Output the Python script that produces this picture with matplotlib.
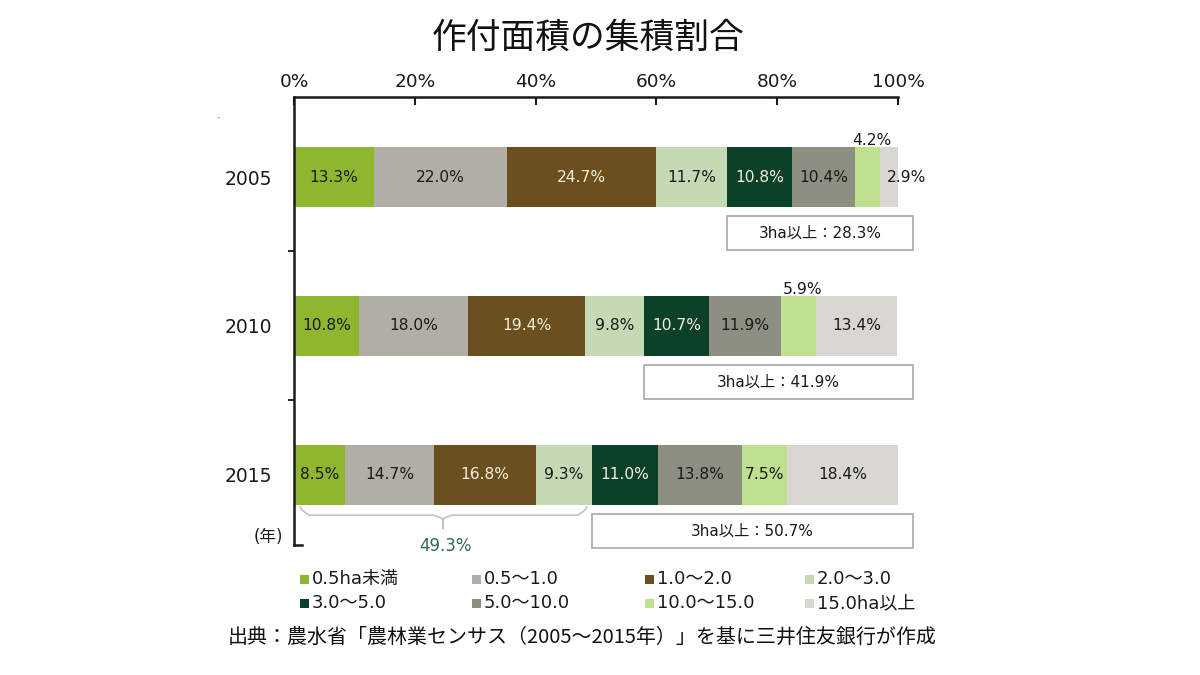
import matplotlib.pyplot as plt
from matplotlib.patches import Rectangle
import numpy as np

plt.rcParams['font.family'] = ['DejaVu Sans', 'Noto Sans CJK JP']

years = ['2005', '2010', '2015']
categories = ['0.5ha未満', '0.5～1.0', '1.0～2.0', '2.0～3.0',
              '3.0～5.0', '5.0～10.0', '10.0～15.0', '15.0ha以上']
colors = ['#8fb62f', '#b1aea6', '#6b4f1f', '#c6d9b5',
          '#0b4029', '#8d8f82', '#bfe08f', '#d8d7d2']
dark = {2, 4}  # segments with light text

share_2005 = [13.3, 22.0, 24.7, 11.7, 10.8, 10.4, 4.2, 2.9]
share_2010 = [10.8, 18.0, 19.4, 9.8, 10.7, 11.9, 5.9, 13.4]
share_2015 = [8.5, 14.7, 16.8, 9.3, 11.0, 13.8, 7.5, 18.4]
shares = [share_2005, share_2010, share_2015]

W, H = 1200, 675
fig = plt.figure(figsize=(12, 6.75), dpi=100)
ax = fig.add_axes([294 / W, 1 - 545 / H, (898 - 294) / W, (545 - 97) / H])

bar_h = 0.40
lab_fs = 11.2
for i, vals in enumerate(shares):
    lefts = np.concatenate([[0], np.cumsum(vals)[:-1]])
    ax.barh(i, vals, left=lefts, height=bar_h, color=colors, linewidth=0)
    for k, (v, l) in enumerate(zip(vals, lefts)):
        txt = f'{v:.1f}%'
        tc = '#f4efdc' if k in dark else '#1a1a1a'
        if v < 4:
            ax.text(l + v + 1.5, i, txt, ha='center', va='center', fontsize=lab_fs, color='#1a1a1a')
        elif v < 7:
            ax.text(l + v / 2 + 0.7, i - 0.245, txt, ha='center', va='center', fontsize=lab_fs, color='#1a1a1a')
        else:
            ax.text(l + v / 2, i, txt, ha='center', va='center', fontsize=lab_fs, color=tc)

    # 3ha以上 box
    start = sum(vals[:4])
    big = sum(vals[4:])
    ax.add_patch(Rectangle((start, i + 0.265), 102.5 - start, 0.225, facecolor='white',
                           edgecolor='#a8a8a8', linewidth=1.2, clip_on=False))
    ax.text((start + 102.5) / 2, i + 0.38, f'3ha以上：{big:.1f}%', ha='center', va='center',
            fontsize=11, color='#1a1a1a')

# brace under 2015 (segments below 3ha)
small = sum(share_2015[:4])
x0, x1 = 1.0, small - 0.8
xc = small / 2
yb = 2 + 0.27
bx = [x0, x0 + 0.3, x0 + 1.5, xc - 1.5, xc - 0.2, xc, xc, xc, xc + 0.2, xc + 1.5, x1 - 1.5, x1 - 0.3, x1]
by = [2 + 0.215, yb - 0.035, yb, yb, yb + 0.02, yb + 0.04, yb + 0.09, yb + 0.04, yb + 0.02, yb, yb,
      yb - 0.035, 2 + 0.215]
ax.plot(bx, by, color='#c2c2c2', linewidth=1.2, clip_on=False)
ax.text(xc + 0.4, 2 + 0.475, f'{small:.1f}%', ha='center', va='center', fontsize=12,
        color='#2f6a4f')

ax.text(-4.3, 2 + 0.415, '(年)', ha='center', va='center', fontsize=12, color='#1a1a1a')

ax.set_xlim(0, 100)
ax.set_ylim(2.47, -0.537)
ax.axhline(2.47, xmax=0.013, color='#1a1a1a', linewidth=1.8, clip_on=False)
ax.xaxis.tick_top()
ax.set_xticks(np.arange(0, 101, 20))
ax.set_xticklabels([f'{t}%' for t in range(0, 101, 20)])
ax.tick_params(axis='x', direction='in', length=6, width=1.5, labelsize=13.3, pad=4,
               colors='#1a1a1a')
ax.set_yticks(range(len(years)))
ax.set_yticklabels(years)
ax.tick_params(axis='y', length=0, labelsize=13.5, pad=16, colors='#1a1a1a')
ax.set_yticks([0.5, 1.5], minor=True)
ax.tick_params(axis='y', which='minor', length=4, width=1.2, direction='out')
for s in ['right', 'bottom']:
    ax.spines[s].set_visible(False)
for s in ['top', 'left']:
    ax.spines[s].set_linewidth(1.8)
    ax.spines[s].set_color('#1a1a1a')

# legend drawn by hand: 2 rows x 4 cols
col_x = [300, 472, 645, 805]
row_y = [579, 603]
for k, (lab, c) in enumerate(zip(categories, colors)):
    px = col_x[k % 4]
    py = row_y[k // 4]
    fig.patches.append(Rectangle((px / W, 1 - (py + 5) / H), 9 / W, 9 / H, facecolor=c,
                                 edgecolor='none', transform=fig.transFigure, figure=fig))
    fig.text((px + 12) / W, 1 - py / H, lab, ha='left', va='center', fontsize=13,
             color='#1a1a1a')

fig.text(588 / W, 1 - 38 / H, '作付面積の集積割合', ha='center', va='center', fontsize=25,
         family=['Noto Sans CJK JP'], color='#111111')
fig.text(582 / W, 1 - 637 / H, '出典：農水省「農林業センサス（2005～2015年）」を基に三井住友銀行が作成',
         ha='center', va='center', fontsize=14.4, family=['Noto Sans CJK JP'], color='#111111')
fig.text(219 / W, 1 - 115 / H, '.', ha='center', va='center', fontsize=8, color='#1f2a7a')

fig.savefig('out.png', dpi=100, facecolor='white')
